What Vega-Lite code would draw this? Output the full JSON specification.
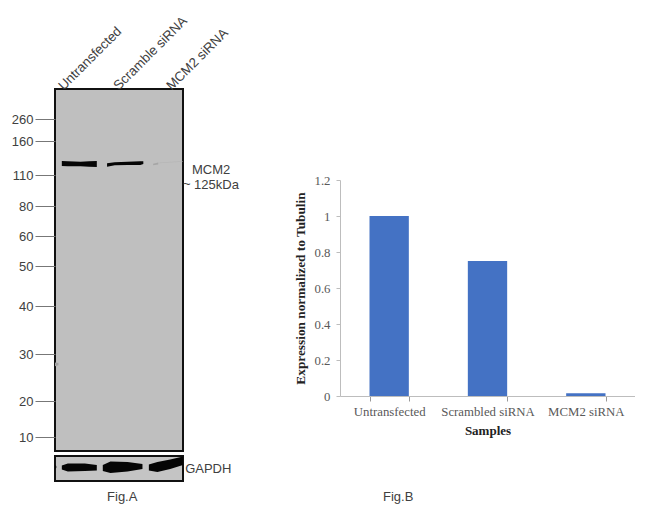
{
"$schema":"https://vega.github.io/schema/vega-lite/v6.json",
"padding":{"left":10,"top":13,"right":0,"bottom":0},
"background":"white",
"config":{"view":{"stroke":null},"concat":{"spacing":53},"text":{"font":"Liberation Sans"}},
"datasets":{
"bandsTop":[
{"band":"u","signal":"strong","lane":0.16,"hi":130.6,"lo":123.2},
{"band":"u","signal":"strong","lane":0.3,"hi":130.1,"lo":122.8},
{"band":"u","signal":"strong","lane":0.6,"hi":129.6,"lo":122.8},
{"band":"u","signal":"strong","lane":0.8,"hi":130.1,"lo":122.2},
{"band":"u","signal":"strong","lane":0.98,"hi":130.6,"lo":121.8},
{"band":"s","signal":"strong","lane":1.22,"hi":127.2,"lo":122.2},
{"band":"s","signal":"strong","lane":1.4,"hi":128.7,"lo":124.3},
{"band":"s","signal":"strong","lane":1.7,"hi":129.6,"lo":124.7},
{"band":"s","signal":"strong","lane":2.0,"hi":130.1,"lo":124.7},
{"band":"s","signal":"strong","lane":2.07,"hi":130.1,"lo":126.2},
{"band":"f","signal":"faint","lane":2.3,"hi":126.5,"lo":124.5},
{"band":"f","signal":"faint","lane":2.42,"hi":128.4,"lo":125.4},
{"band":"g","signal":"ghost","lane":2.45,"hi":128.4,"lo":127.2},
{"band":"g","signal":"ghost","lane":2.99,"hi":130.6,"lo":129.6},
{"band":"e","signal":"speck","lane":0,"hi":28.2,"lo":27.4},
{"band":"e","signal":"speck","lane":0.08,"hi":28.1,"lo":27.6}
],
"bandsLow":[
{"band":"a","lane":0,"top":0.36,"bottom":0.52},
{"band":"a","lane":0.03,"top":0.4,"bottom":0.48},
{"band":"b","lane":0.16,"top":0.38,"bottom":0.54},
{"band":"b","lane":0.3,"top":0.3,"bottom":0.62},
{"band":"b","lane":0.7,"top":0.3,"bottom":0.6},
{"band":"b","lane":0.98,"top":0.36,"bottom":0.58},
{"band":"c","lane":1.12,"top":0.36,"bottom":0.6},
{"band":"c","lane":1.3,"top":0.22,"bottom":0.68},
{"band":"c","lane":1.7,"top":0.24,"bottom":0.62},
{"band":"c","lane":2.05,"top":0.32,"bottom":0.52},
{"band":"d","lane":2.2,"top":0.34,"bottom":0.58},
{"band":"d","lane":2.4,"top":0.24,"bottom":0.64},
{"band":"d","lane":2.7,"top":0.14,"bottom":0.52},
{"band":"d","lane":3,"top":0.02,"bottom":0.36}
],
"bars":[
{"sample":"Untransfected","expression":1.0},
{"sample":"Scrambled siRNA","expression":0.75},
{"sample":"MCM2 siRNA","expression":0.015}
]
},
"hconcat":[
{"spacing":3,"vconcat":[
{"width":128,"height":362,"view":{"fill":"#bfbfbf","stroke":"#111111","strokeWidth":2},
"layer":[
{"data":{"name":"bandsTop"},"mark":{"type":"area","orient":"vertical"},
"encoding":{
"x":{"field":"lane","type":"quantitative","scale":{"domain":[0,3],"nice":false,"zero":false},"axis":null},
"y":{"field":"hi","type":"quantitative","stack":null,"scale":{"domain":[400,260,160,110,80,60,50,40,30,20,10,5],"range":[0,30,52,86,117,147,177,217,265,312,348,362],"zero":false,"nice":false},
"axis":{"title":null,"values":[260,160,110,80,60,50,40,30,20,10],"tickCount":10,"domain":false,"grid":false,"tickSize":20,"tickColor":"#777777","tickWidth":1,"labelFont":"Liberation Sans","labelFontSize":13,"labelColor":"#404040","labelPadding":2}},
"y2":{"field":"lo"},
"detail":{"field":"band"},
"color":{"field":"signal","type":"nominal","legend":null,"scale":{"domain":["strong","faint","ghost","speck"],"range":["#050505","#a6a6a6","#b6b6b6","#a0a0a0"]}}}},
{"data":{"values":[
{"t":"Untransfected","lane":0.14,"kDa":405},
{"t":"Scramble siRNA","lane":1.43,"kDa":405},
{"t":"MCM2 siRNA","lane":2.67,"kDa":405}]},
"mark":{"type":"text","angle":-45,"align":"left","baseline":"middle","fontSize":13.3,"color":"#404040"},
"encoding":{"x":{"field":"lane","type":"quantitative"},"y":{"field":"kDa","type":"quantitative"},"text":{"field":"t"}}},
{"data":{"values":[
{"t":"MCM2","lane":3.21,"kDa":117},
{"t":"~","lane":3.0,"kDa":101},
{"t":"125kDa","lane":3.26,"kDa":100.3}]},
"mark":{"type":"text","align":"left","baseline":"middle","fontSize":13,"color":"#404040"},
"encoding":{"x":{"field":"lane","type":"quantitative"},"y":{"field":"kDa","type":"quantitative"},"text":{"field":"t"}}}
]},
{"width":128,"height":25,"view":{"fill":"#c4c4c4","stroke":"#111111","strokeWidth":2},
"layer":[
{"data":{"name":"bandsLow"},"mark":{"type":"area","color":"#050505","orient":"vertical"},
"encoding":{
"x":{"field":"lane","type":"quantitative","scale":{"domain":[0,3],"nice":false,"zero":false},"axis":null},
"y":{"field":"top","type":"quantitative","stack":null,"scale":{"domain":[0,1],"reverse":true,"nice":false,"zero":false},"axis":null},
"y2":{"field":"bottom"},
"detail":{"field":"band"}}},
{"data":{"values":[
{"t":"GAPDH","lane":3.05,"pos":0.52},
{"t":"Fig.A","lane":1.22,"pos":1.64}]},
"mark":{"type":"text","align":"left","baseline":"middle","fontSize":13,"color":"#404040"},
"encoding":{"x":{"field":"lane","type":"quantitative"},"y":{"field":"pos","type":"quantitative"},"text":{"field":"t"}}}
]}
]},
{"spacing":0,"vconcat":[
{"width":295,"height":85,"data":{"values":[{"t":""}]},"mark":{"type":"text"},"encoding":{"text":{"field":"t"}}},
{"width":295,"height":216,
"layer":[
{"data":{"name":"bars"},"mark":{"type":"bar","color":"#4472C4"},
"encoding":{
"x":{"field":"sample","type":"nominal","sort":null,"scale":{"paddingInner":0.6,"paddingOuter":0.3},
"axis":{"title":"Samples","labelAngle":0,"ticks":true,"tickBand":"extent","tickExtra":true,"tickSize":5,"tickOpacity":1,"tickWidth":1,"tickColor":"#999999","domainColor":"#bdbdbd","labelFont":"Liberation Serif","labelFontSize":12.8,"labelColor":"#595959","labelPadding":4,"titleFont":"Liberation Serif","titleFontSize":13,"titleFontWeight":"bold","titleColor":"#222222","titlePadding":7}},
"y":{"field":"expression","type":"quantitative","scale":{"domain":[0,1.2],"nice":false},
"axis":{"title":"Expression normalized to Tubulin","values":[0,0.2,0.4,0.6,0.8,1,1.2],"tickCount":7,"format":"~g","labelOverlap":false,"grid":false,"tickSize":4,"tickColor":"#bdbdbd","domainColor":"#bdbdbd","labelFont":"Liberation Serif","labelFontSize":12.8,"labelColor":"#595959","labelPadding":6,"titleFont":"Liberation Serif","titleFontSize":13.3,"titleFontWeight":"bold","titleColor":"#222222","titlePadding":7}}}},
{"data":{"values":[{"t":"Fig.B","sample":"Untransfected","expression":-0.56}]},
"mark":{"type":"text","font":"Liberation Sans","fontSize":13,"color":"#404040","dx":9,"baseline":"middle"},
"encoding":{"x":{"field":"sample","type":"nominal","sort":null},"y":{"field":"expression","type":"quantitative"},"text":{"field":"t"}}}
]}
]}
]
}
